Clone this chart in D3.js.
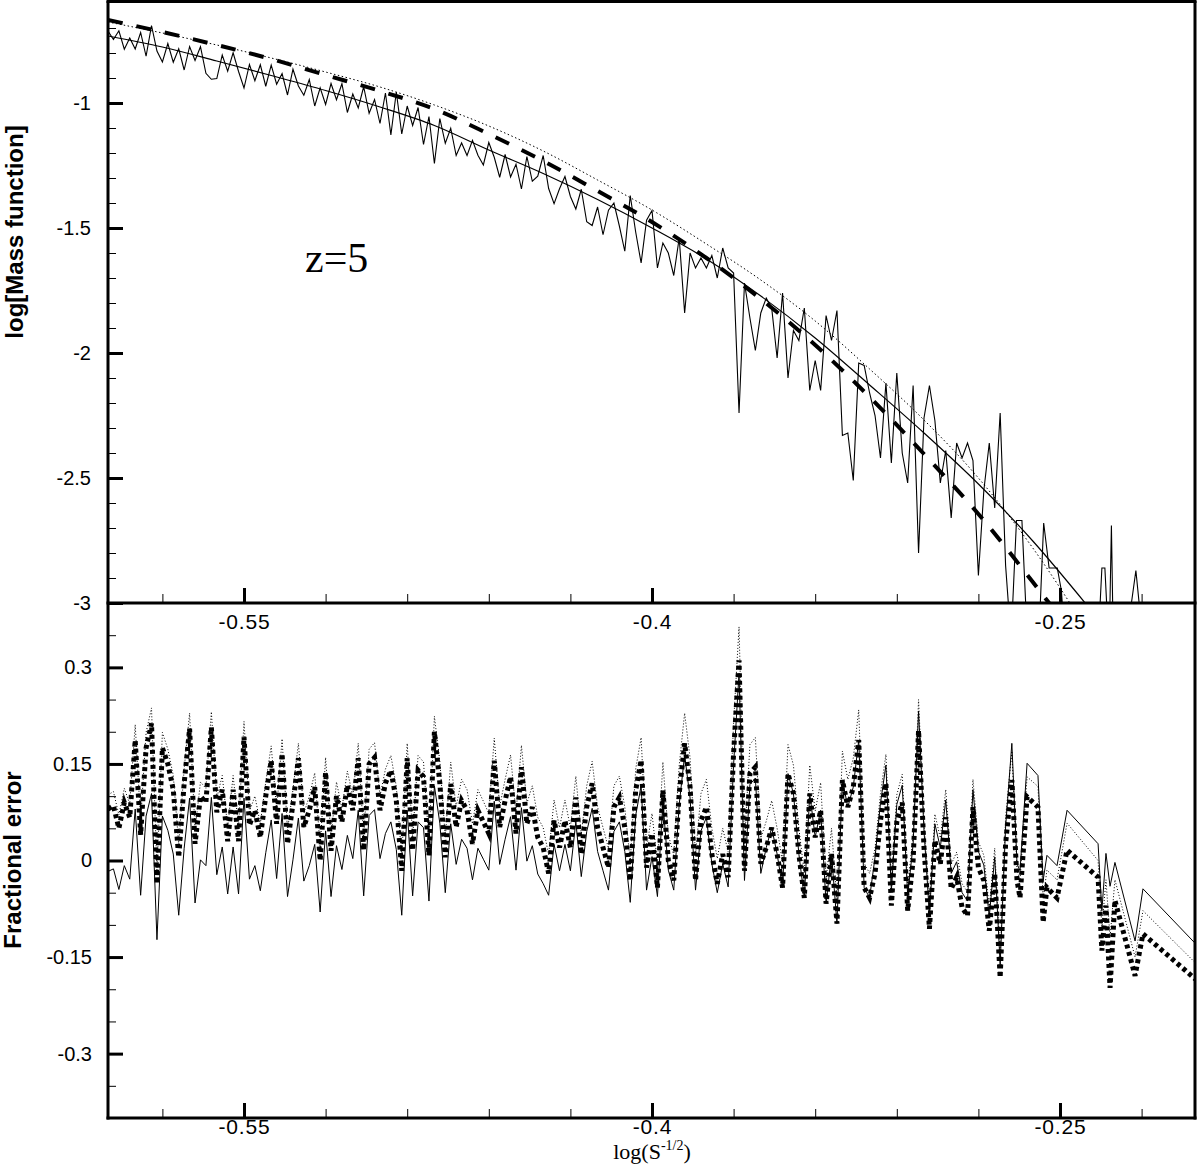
<!DOCTYPE html>
<html><head><meta charset="utf-8">
<script src="https://cdn.jsdelivr.net/npm/d3@7"></script>
<style>
body{margin:0;background:#fff;}
svg{display:block;background:#fff;}
text{font-family:"Liberation Sans", Arial, Helvetica, sans-serif;fill:#000;}
</style></head><body>
<svg id="chart" width="1200" height="1166"></svg>
<script>
// ---------------- DATA ----------------
// bin centres in log(S^-1/2)
const binX = [
-0.600,-0.598,-0.596,-0.594,-0.592,-0.590,-0.588,-0.586,-0.584,-0.582,
-0.580,-0.578,-0.576,-0.574,-0.572,-0.570,-0.568,-0.566,-0.564,-0.562,
-0.560,-0.558,-0.556,-0.554,-0.552,-0.550,-0.548,-0.546,-0.544,-0.542,
-0.540,-0.538,-0.536,-0.534,-0.532,-0.530,-0.528,-0.526,-0.524,-0.522,
-0.520,-0.518,-0.516,-0.514,-0.512,-0.510,-0.508,-0.506,-0.504,-0.502,
-0.500,-0.498,-0.496,-0.494,-0.492,-0.490,-0.488,-0.486,-0.484,-0.482,
-0.480,-0.478,-0.476,-0.474,-0.472,-0.470,-0.468,-0.466,-0.464,-0.462,
-0.460,-0.458,-0.456,-0.454,-0.452,-0.450,-0.448,-0.446,-0.444,-0.442,
-0.440,-0.438,-0.436,-0.434,-0.432,-0.430,-0.428,-0.426,-0.424,-0.422,
-0.420,-0.418,-0.416,-0.414,-0.412,-0.410,-0.408,-0.406,-0.404,-0.402,
-0.400,-0.398,-0.396,-0.394,-0.392,-0.390,-0.388,-0.386,-0.384,-0.382,
-0.380,-0.378,-0.376,-0.374,-0.372,-0.370,-0.368,-0.366,-0.364,-0.362,
-0.360,-0.358,-0.356,-0.354,-0.352,-0.350,-0.348,-0.346,-0.344,-0.342,
-0.340,-0.338,-0.336,-0.334,-0.332,-0.330,-0.328,-0.326,-0.324,-0.322,
-0.320,-0.318,-0.316,-0.314,-0.312,-0.310,-0.308,-0.306,-0.304,-0.302,
-0.300,-0.298,-0.296,-0.294,-0.292,-0.290,-0.288,-0.286,-0.284,-0.282,
-0.280,-0.278,-0.276,-0.274,-0.272,-0.270,-0.268,-0.266,-0.264,-0.262
];
// simulated log mass function (noisy)
const massSim = [
-0.712,-0.746,-0.711,-0.785,-0.740,-0.784,-0.718,-0.813,-0.690,-0.792,
-0.836,-0.762,-0.837,-0.783,-0.868,-0.774,-0.830,-0.775,-0.881,-0.905,
-0.902,-0.808,-0.873,-0.799,-0.874,-0.940,-0.846,-0.911,-0.847,-0.933,
-0.848,-0.925,-0.882,-0.968,-0.865,-0.932,-0.969,-0.906,-1.012,-0.939,
-1.006,-0.922,-0.987,-0.923,-1.038,-0.964,-1.020,-0.935,-1.041,-0.986,
-1.082,-0.960,-1.128,-0.956,-1.124,-1.012,-1.090,-1.018,-1.166,-1.054,
-1.242,-1.062,-1.161,-1.101,-1.210,-1.160,-1.210,-1.149,-1.209,-1.248,
-1.158,-1.217,-1.297,-1.206,-1.296,-1.245,-1.344,-1.214,-1.313,-1.293,
-1.210,-1.342,-1.403,-1.343,-1.294,-1.374,-1.424,-1.345,-1.475,-1.490,
-1.416,-1.527,-1.429,-1.400,-1.492,-1.593,-1.370,-1.516,-1.640,-1.469,
-1.430,-1.660,-1.560,-1.600,-1.690,-1.540,-1.840,-1.600,-1.660,-1.620,
-1.660,-1.610,-1.700,-1.580,-1.660,-1.680,-2.240,-1.720,-1.860,-1.990,
-1.840,-1.780,-1.820,-2.020,-1.760,-2.100,-1.910,-1.950,-1.820,-2.150,
-2.030,-2.150,-1.850,-1.950,-1.830,-2.330,-2.320,-2.510,-2.040,-2.050,
-2.160,-2.250,-2.420,-2.120,-2.440,-2.080,-2.400,-2.520,-2.130,-2.800,
-2.260,-2.130,-2.270,-2.520,-2.390,-2.660,-2.360,-2.420,-2.360,-2.430,
-2.890,-2.550,-2.360,-2.620,-2.240,-2.850,-3.150,-2.670,-2.670,-3.150
];
const massSimTailX = [-0.258,-0.256,-0.254,-0.251,-0.2495,-0.2475,-0.2357,-0.2346,-0.2335,-0.2324,-0.2318,-0.2311,-0.2305,-0.2250,-0.2221,-0.2200];
const massSimTailY = [-3.20,-2.68,-2.86,-2.86,-2.95,-3.25,-3.10,-2.86,-2.86,-3.10,-3.10,-2.69,-3.10,-3.10,-2.87,-3.10];

// analytic fits (log mass function)
const fitX      = [-0.60,-0.58,-0.56,-0.54,-0.52,-0.50,-0.48,-0.46,-0.44,-0.42,-0.40,-0.38,-0.36,-0.34,-0.32,-0.30,-0.28,-0.26,-0.24];
const fitSolid  = [-0.732,-0.776,-0.832,-0.890,-0.950,-1.016,-1.090,-1.188,-1.282,-1.386,-1.500,-1.624,-1.772,-1.940,-2.128,-2.320,-2.524,-2.752,-3.010];
const fitDashed = [-0.668,-0.716,-0.768,-0.824,-0.888,-0.952,-1.024,-1.124,-1.232,-1.352,-1.476,-1.620,-1.784,-1.968,-2.176,-2.404,-2.644,-2.916,-3.200];
const fitDotted = [-0.676,-0.720,-0.768,-0.820,-0.876,-0.936,-1.008,-1.092,-1.192,-1.308,-1.428,-1.564,-1.708,-1.872,-2.064,-2.268,-2.500,-2.780,-3.108];

// fractional errors (bins 0..165 of binX, then tail bins)
const errDashed = [
0.080,0.085,0.050,0.090,0.067,0.187,0.040,0.175,0.213,-0.036,
0.175,0.150,0.110,0.005,0.120,0.205,0.026,0.100,0.090,0.207,
0.075,0.110,0.030,0.110,0.030,0.192,0.055,0.078,0.036,0.100,
0.155,0.057,0.166,0.026,0.088,0.159,0.052,0.078,0.114,0.000,
0.137,0.015,0.100,0.060,0.117,0.078,0.159,0.016,0.150,0.160,
0.078,0.120,0.140,0.093,-0.016,0.159,0.016,0.140,0.130,0.008,
0.200,0.120,0.005,0.119,0.052,0.093,0.078,0.026,0.078,0.060,
0.042,0.155,0.052,0.093,0.130,0.042,0.145,0.057,0.083,0.036,
0.020,-0.020,0.062,0.020,0.062,0.020,0.098,0.010,0.083,0.120,
0.051,0.020,-0.011,0.083,0.098,0.051,-0.031,0.109,0.156,-0.011,
0.042,-0.042,0.109,0.000,-0.031,0.104,0.182,0.114,-0.031,0.062,
0.083,0.010,-0.036,0.010,-0.026,0.167,0.311,-0.016,0.135,0.145,
-0.005,0.020,0.051,0.010,-0.042,0.135,0.104,0.010,-0.058,0.104,
0.036,0.078,-0.067,0.010,-0.098,0.125,0.083,0.114,0.187,-0.042,
-0.058,-0.020,0.062,0.120,-0.070,0.060,0.090,-0.078,0.000,0.202,
0.020,-0.106,0.031,-0.005,0.067,-0.044,-0.026,-0.073,-0.086,0.083,
-0.011,-0.031,-0.109,-0.020,-0.182,0.026
];
const errSolid = [
-0.017,-0.013,-0.045,-0.008,-0.029,0.080,-0.054,0.069,0.104,-0.123,
0.069,0.047,0.010,-0.085,0.019,0.097,-0.066,0.001,-0.008,0.098,
-0.022,0.021,-0.052,0.021,-0.052,0.097,-0.029,-0.008,-0.047,0.012,
0.063,-0.028,0.073,-0.056,0.001,0.066,-0.032,-0.008,0.025,-0.080,
0.046,-0.056,0.023,-0.014,0.039,0.003,0.078,-0.055,0.070,0.079,
0.003,0.042,0.060,0.017,-0.085,0.078,-0.055,0.060,0.051,-0.063,
0.116,0.058,-0.050,0.057,-0.006,0.033,0.019,-0.030,0.019,0.002,
-0.015,0.092,-0.006,0.033,0.068,-0.015,0.082,-0.001,0.023,-0.021,
-0.036,-0.054,0.025,-0.016,0.025,-0.016,0.060,-0.025,0.045,0.081,
0.014,-0.016,-0.046,0.045,0.060,0.014,-0.065,0.070,0.116,-0.046,
0.006,-0.056,0.092,-0.015,-0.046,0.087,0.164,0.097,-0.046,0.046,
0.067,-0.005,-0.050,-0.005,-0.041,0.149,0.291,-0.031,0.118,0.128,
-0.020,0.020,0.051,0.010,-0.042,0.135,0.104,0.010,-0.058,0.104,
0.036,0.078,-0.067,0.010,-0.098,0.125,0.083,0.114,0.187,-0.042,
-0.058,0.005,0.089,0.148,-0.047,0.087,0.117,-0.055,0.025,0.232,
0.046,-0.084,0.057,0.020,0.094,-0.020,-0.002,-0.050,-0.063,0.110,
0.014,-0.007,-0.087,0.005,-0.162,0.052
];
const errDotted = [
0.102,0.107,0.071,0.112,0.088,0.211,0.061,0.199,0.237,-0.017,
0.199,0.173,0.132,0.025,0.142,0.229,0.047,0.122,0.112,0.231,
0.097,0.132,0.051,0.132,0.051,0.216,0.076,0.100,0.057,0.122,
0.178,0.078,0.189,0.047,0.110,0.182,0.073,0.100,0.136,0.020,
0.160,0.035,0.122,0.081,0.139,0.100,0.182,0.036,0.173,0.183,
0.100,0.142,0.163,0.115,0.004,0.182,0.036,0.163,0.153,0.028,
0.224,0.154,0.035,0.153,0.084,0.126,0.110,0.057,0.110,0.092,
0.073,0.190,0.084,0.126,0.164,0.073,0.179,0.089,0.116,0.067,
0.051,0.009,0.094,0.051,0.094,0.051,0.131,0.040,0.116,0.154,
0.083,0.051,0.019,0.116,0.131,0.083,-0.002,0.142,0.191,0.019,
0.073,-0.004,0.153,0.040,0.008,0.148,0.229,0.159,0.008,0.104,
0.126,0.050,0.003,0.050,0.013,0.214,0.363,0.023,0.180,0.191,
0.035,0.061,0.093,0.050,-0.004,0.180,0.148,0.050,-0.020,0.148,
0.077,0.121,-0.030,0.050,-0.062,0.170,0.126,0.159,0.234,-0.004,
-0.020,0.019,0.104,0.165,-0.033,0.102,0.134,-0.041,0.040,0.250,
0.061,-0.070,0.072,0.035,0.110,-0.006,0.013,-0.036,-0.049,0.126,
0.029,0.008,-0.073,0.019,-0.149,0.067
];
const errTailX      = [-0.2677,-0.2658,-0.2647,-0.2621,-0.2581,-0.2562,-0.2548,-0.2511,-0.2474,-0.2360,-0.2346,-0.2331,-0.2316,-0.2298,-0.2224,-0.2195,-0.2000];
const errDashedTail = [0.125,-0.031,-0.058,0.099,0.083,-0.096,-0.042,-0.058,0.016,-0.026,-0.140,-0.070,-0.198,-0.062,-0.179,-0.114,-0.185];
const errSolidTail  = [0.182,-0.005,-0.016,0.151,0.132,-0.031,0.008,-0.008,0.078,0.026,-0.078,0.011,-0.040,-0.003,-0.125,-0.044,-0.130];
const errDottedTail = [0.170,-0.015,-0.030,0.130,0.115,-0.060,-0.015,-0.030,0.058,0.000,-0.105,-0.030,-0.120,-0.030,-0.150,-0.078,-0.160];

// ticks
const xTicks = [-0.55,-0.4,-0.25];
const xTickLabels = ["-0.55","-0.4","-0.25"];
const xMinor = [-0.58,-0.52,-0.49,-0.46,-0.43,-0.37,-0.34,-0.31,-0.28,-0.22];
const topYTicks = [-1,-1.5,-2,-2.5,-3];
const topYLabels = ["-1","-1.5","-2","-2.5","-3"];
const topYMinor = [-2.9,-2.8,-2.7,-2.6,-2.4,-2.3,-2.2,-2.1,-1.9,-1.8,-1.7,-1.6,-1.4,-1.3,-1.2,-1.1,-0.9,-0.8,-0.7];
const botYTicks = [0.3,0.15,0,-0.15,-0.3];
const botYLabels = ["0.3","0.15","0","-0.15","-0.3"];
const botYMinor = [0.35,0.25,0.2,0.1,0.05,-0.05,-0.1,-0.2,-0.25,-0.35];

// ---------------- LAYOUT ----------------
const L = 108, R = 1196, T1 = 3, B1 = 603, B2 = 1118;
const svg = d3.select("#chart");
const x = d3.scaleLinear().domain([-0.6,-0.2]).range([L,R]);
const yTop = d3.scaleLinear().domain([-3,-0.6]).range([B1,T1]);
const yBot = d3.scaleLinear().domain([-0.4,0.4]).range([B2,B1]);

const defs = svg.append("defs");
defs.append("clipPath").attr("id","clipTop").append("rect").attr("x",L).attr("y",0).attr("width",R-L).attr("height",B1);
defs.append("clipPath").attr("id","clipBot").append("rect").attr("x",L).attr("y",B1).attr("width",R-L).attr("height",B2-B1);

// ---------------- TOP PANEL ----------------
const gTop = svg.append("g").attr("clip-path","url(#clipTop)");
const lineTop = d3.line().x(d=>x(d[0])).y(d=>yTop(d[1]));
const smoothTop = d3.line().x(d=>x(d[0])).y(d=>yTop(d[1])).curve(d3.curveMonotoneX);

const simPts = binX.map((v,i)=>[v,massSim[i]]).concat(massSimTailX.map((v,i)=>[v,massSimTailY[i]]));
gTop.append("path").attr("d",lineTop(simPts)).attr("fill","none").attr("stroke","#000").attr("stroke-width",1.1).attr("stroke-linejoin","miter");
gTop.append("path").attr("d",smoothTop(fitX.map((v,i)=>[v,fitSolid[i]]))).attr("fill","none").attr("stroke","#000").attr("stroke-width",1.2);
gTop.append("path").attr("d",smoothTop(fitX.map((v,i)=>[v,fitDotted[i]]))).attr("fill","none").attr("stroke","#000").attr("stroke-width",1).attr("stroke-dasharray","1.5,2.5");
gTop.append("path").attr("d",smoothTop(fitX.map((v,i)=>[v,fitDashed[i]]))).attr("fill","none").attr("stroke","#000").attr("stroke-width",4).attr("stroke-dasharray","15,14");

// ---------------- BOTTOM PANEL ----------------
const gBot = svg.append("g").attr("clip-path","url(#clipBot)");
const lineBot = d3.line().x(d=>x(d[0])).y(d=>yBot(d[1]));
const nB = errDashed.length;
const mk = (arr, tail) => binX.slice(0,nB).map((v,i)=>[v,arr[i]]).concat(errTailX.map((v,i)=>[v,tail[i]]));
gBot.append("path").attr("d",lineBot(mk(errSolid,errSolidTail))).attr("fill","none").attr("stroke","#000").attr("stroke-width",1);
gBot.append("path").attr("d",lineBot(mk(errDotted,errDottedTail))).attr("fill","none").attr("stroke","#000").attr("stroke-width",1).attr("stroke-dasharray","1,2");
gBot.append("path").attr("d",lineBot(mk(errDashed,errDashedTail))).attr("fill","none").attr("stroke","#000").attr("stroke-width",5).attr("stroke-dasharray","4,3.5");

// ---------------- AXES ----------------
function styleAxis(g, major){
  g.select(".domain").remove();
  g.selectAll(".tick line").attr("stroke","#000").attr("stroke-width", major ? 3 : 1);
  g.selectAll(".tick text").attr("fill","#000");
}
// top panel y
let ga = svg.append("g").attr("transform",`translate(${L},0)`)
  .call(d3.axisLeft(yTop).tickValues(topYMinor).tickFormat("").tickSize(-8));
styleAxis(ga,false);
ga = svg.append("g").attr("transform",`translate(${L},0)`)
  .call(d3.axisLeft(yTop).tickValues(topYTicks).tickFormat((d,i)=>topYLabels[i]).tickSize(-15).tickPadding(17));
styleAxis(ga,true);
ga.selectAll("text").attr("font-size",20);
// bottom panel y
ga = svg.append("g").attr("transform",`translate(${L},0)`)
  .call(d3.axisLeft(yBot).tickValues(botYMinor).tickFormat("").tickSize(-8));
styleAxis(ga,false);
ga = svg.append("g").attr("transform",`translate(${L},0)`)
  .call(d3.axisLeft(yBot).tickValues(botYTicks).tickFormat((d,i)=>botYLabels[i]).tickSize(-15).tickPadding(16));
styleAxis(ga,true);
ga.selectAll("text").attr("font-size",20);
// x axes
[[B1,11],[B2,1]].forEach(([yy,pad])=>{
  let g1 = svg.append("g").attr("transform",`translate(0,${yy})`)
    .call(d3.axisBottom(x).tickValues(xMinor).tickFormat("").tickSize(-9));
  styleAxis(g1,false);
  let g2 = svg.append("g").attr("transform",`translate(0,${yy})`)
    .call(d3.axisBottom(x).tickValues(xTicks).tickFormat((d,i)=>xTickLabels[i]).tickSize(-15).tickPadding(pad));
  styleAxis(g2,true);
  g2.selectAll("text").attr("font-size",21).attr("letter-spacing","0.8px");
});

// frames
const frame = svg.append("g").attr("fill","none").attr("stroke","#000").attr("stroke-width",3);
frame.append("line").attr("x1",L).attr("x2",L).attr("y1",1).attr("y2",B2+1.5);
frame.append("line").attr("x1",R-1).attr("x2",R-1).attr("y1",1).attr("y2",B2+1.5);
frame.append("line").attr("x1",L-1.5).attr("x2",R+0.5).attr("y1",1.5).attr("y2",1.5);
frame.append("line").attr("x1",L-1.5).attr("x2",R+0.5).attr("y1",B1).attr("y2",B1);
frame.append("line").attr("x1",L-1.5).attr("x2",R+0.5).attr("y1",B2).attr("y2",B2);

// titles
svg.append("text").attr("transform","translate(23,232) rotate(-90)").attr("text-anchor","middle")
  .attr("font-size",24).attr("font-weight","bold").text("log[Mass function]");
svg.append("text").attr("transform","translate(21,860) rotate(-90)").attr("text-anchor","middle")
  .attr("font-size",24).attr("font-weight","bold").text("Fractional error");
const xt = svg.append("text").attr("x",652).attr("y",1159).attr("text-anchor","middle")
  .style("font-family","'Liberation Serif','Times New Roman',serif").attr("font-size",22);
xt.append("tspan").text("log(S");
xt.append("tspan").attr("dy",-9).attr("font-size",14).text("-1/2");
xt.append("tspan").attr("dy",9).text(")");
svg.append("text").attr("x",305).attr("y",272)
  .style("font-family","'Liberation Serif','Times New Roman',serif").attr("font-size",42).text("z=5");
</script>
</body></html>
